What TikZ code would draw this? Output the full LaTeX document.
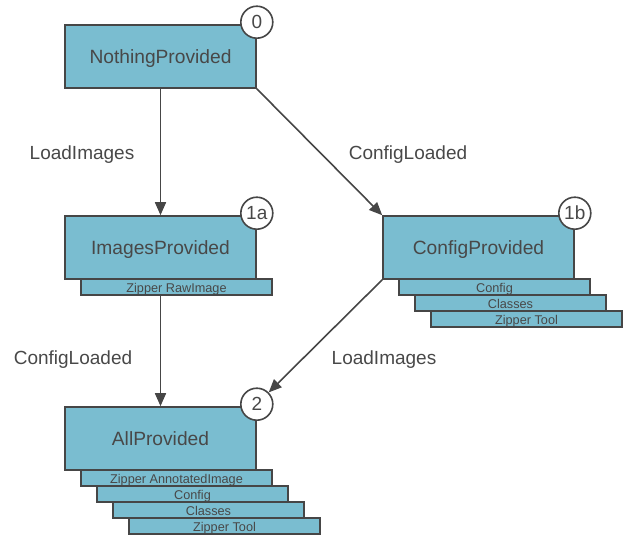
\documentclass[tikz,border=0pt]{standalone}
\usepackage{fontspec}
\setmainfont{Liberation Sans}
\usepackage{tikz}
\usetikzlibrary{arrows.meta}

\definecolor{boxfill}{RGB}{122,189,208}
\definecolor{linegray}{RGB}{70,70,70}
\definecolor{textgray}{RGB}{72,72,72}

\tikzset{
    state/.style={rectangle, draw=linegray, fill=boxfill, line width=1.6pt,
        minimum width=191pt, minimum height=63pt, text=textgray,
        text height=14pt, text depth=0pt,
        font=\fontsize{19.2}{22}\selectfont},
    part/.style={rectangle, draw=linegray, fill=boxfill, line width=1.6pt,
        minimum width=191pt, minimum height=16pt, inner sep=0pt, text=textgray,
        text height=10pt, text depth=0pt,
        font=\fontsize{12.7}{14}\selectfont},
    num/.style={circle, draw=linegray, fill=white, line width=1.6pt,
        minimum size=32pt, inner sep=0pt, text=textgray,
        font=\fontsize{19}{21}\selectfont},
    trans/.style={-{Triangle[length=13pt,width=11pt]}, draw=linegray, line width=1.6pt},
    lbl/.style={text=textgray, font=\fontsize{19}{22}\selectfont}
}

\begin{document}
\begin{tikzpicture}[x=1pt, y=-1pt]
            \useasboundingbox (0,0) rectangle (625,535);

            \node[state] (none) at (160.5,56.5) {NothingProvided};
            \node[num] (n0) at ([yshift=2pt]none.north east) {0};

            \node[part] (imgraw) at (176.5,287) {Zipper RawImage};
            \node[state] (img) at (160.5,247.5) {ImagesProvided};
            \node[num] (n1a) at ([yshift=2pt]img.north east) {1a};

            \node[part] (cfgtool) at (526.5,319) {Zipper Tool};
            \node[part] (cfgclasses) at (510.5,303) {Classes};
            \node[part] (cfgcfg) at (494.5,287) {Config};
            \node[state] (cfg) at (478.5,247.5) {ConfigProvided};
            \node[num] (n1b) at ([yshift=2pt]cfg.north east) {1b};

            \node[part] (alltool) at (224.5,526) {Zipper Tool};
            \node[part] (allclasses) at (208.5,510) {Classes};
            \node[part] (allcfg) at (192.5,494) {Config};
            \node[part] (allimg) at (176.5,478) {Zipper AnnotatedImage};
            \node[state] (all) at (160.5,438.5) {AllProvided};
            \node[num] (n2) at ([yshift=2pt]all.north east) {2};

            \node[lbl] (l1) at (82,155) {LoadImages};
            \node[lbl] (l2) at (408,155) {ConfigLoaded};
            \node[lbl] (l3) at (73,360) {ConfigLoaded};
            \node[lbl] (l4) at (384,360) {LoadImages};

            \draw[trans] (none) -- (img);
            \draw[trans] (none.south east) -- (cfg.north west);
            \draw[trans] (img.south |- imgraw.south) -- (all);
            \draw[trans] (cfg.south west) -- (n2);
        \end{tikzpicture}
\end{document}
